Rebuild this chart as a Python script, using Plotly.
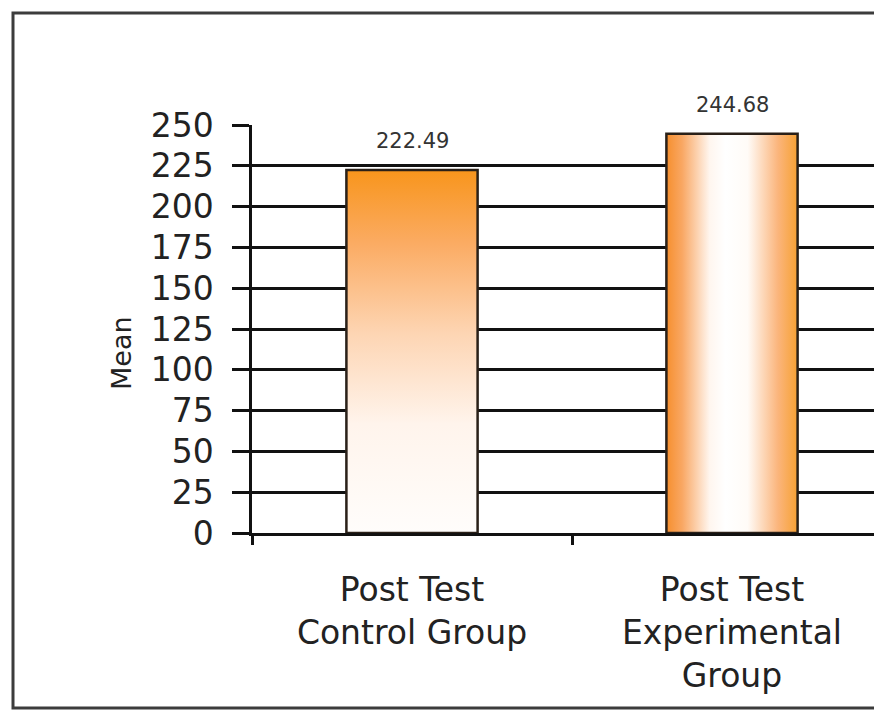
import plotly.graph_objects as go

# ---- data ----
categories = ["Post Test<br>Control Group", "Post Test<br>Experimental<br>Group"]
means = [222.49, 244.68]
value_labels = ["222.49", "244.68"]
y_tick_vals = [0, 25, 50, 75, 100, 125, 150, 175, 200, 225, 250]
y_title = "Mean"

# ---- geometry (page pixels; page body has an 8px margin) ----
OFF = 8
W, H = 882 - OFF, 712 - OFF
L, R, T, B = 252 - OFF, 880 - OFF, 125 - OFF, 533 - OFF
CAT_PX = 320.0
BAR_W = 0.41


def xp(p):
    return (p - OFF - L) / (R - L)


def yp(p):
    return (B - (p - OFF)) / (B - T)


FONT = "DejaVu Sans"

fig = go.Figure()

grad_vertical = [[0.0, "#fffdfb"], [0.3, "#fff4ec"], [0.55, "#fdd5b3"],
                 [0.8, "#fbab62"], [1.0, "#f8951c"]]
grad_horizontal = [[0.0, "#f68f2e"], [0.12, "#f9a763"], [0.33, "#fff6ef"],
                   [0.45, "#ffffff"], [0.62, "#fffbf7"], [0.85, "#fbb57c"],
                   [1.0, "#f7a133"]]

for i, v in enumerate(means):
    x0, x1 = i - BAR_W / 2, i + BAR_W / 2
    if i == 0:
        fg = dict(type="vertical", colorscale=grad_vertical, start=0, stop=v)
    else:
        fg = dict(type="horizontal", colorscale=grad_horizontal, start=x0, stop=x1)
    fig.add_trace(go.Scatter(
        x=[x0, x1, x1, x0, x0], y=[0, 0, v, v, 0],
        mode="lines", fill="toself", fillgradient=fg,
        line=dict(color="#2a2018", width=2.5),
        hoverinfo="skip", showlegend=False,
    ))
    fig.add_annotation(x=i, y=v, text=value_labels[i], showarrow=False,
                       yanchor="bottom", yshift=15,
                       font=dict(family=FONT, size=21, color="#333333"))

# y-axis title
fig.add_annotation(xref="paper", yref="paper", x=xp(121), y=yp(353),
                   xanchor="center", yanchor="middle",
                   text=y_title, textangle=-90, showarrow=False,
                   font=dict(family=FONT, size=27, color="#222222"))

# outer frame
fig.add_shape(type="rect", xref="paper", yref="paper",
              x0=xp(13), x1=xp(900), y0=yp(708), y1=yp(13),
              line=dict(color="#3c3c3c", width=3), layer="below")

fig.update_layout(
    width=W, height=H,
    margin=dict(l=L, r=W - R, t=T, b=H - B, pad=0),
    paper_bgcolor="white", plot_bgcolor="white",
    showlegend=False,
    xaxis=dict(
        range=[-0.5, -0.5 + (R - L) / CAT_PX],
        tickmode="array", tickvals=[0, 1], ticktext=categories,
        ticks="", showgrid=False, zeroline=False,
        showline=True, linecolor="#111111", linewidth=2.5,
        tickfont=dict(family=FONT, size=33, color="#222222"),
        ticklabelstandoff=26,
        minor=dict(tickmode="array", tickvals=[-0.5, 0.5, 1.5], ticks="outside",
                   ticklen=9, tickwidth=2.5, tickcolor="#111111", showgrid=False),
    ),
    yaxis=dict(
        range=[0, 250], tickmode="array", tickvals=y_tick_vals,
        ticks="outside", ticklen=17, tickwidth=2.5, tickcolor="#111111",
        showgrid=True, gridcolor="#111111", gridwidth=2.5,
        zeroline=False, showline=True, linecolor="#111111", linewidth=2.5,
        tickfont=dict(family=FONT, size=33, color="#222222"),
        ticklabelstandoff=12,
    ),
)

fig.write_html("out.html")
